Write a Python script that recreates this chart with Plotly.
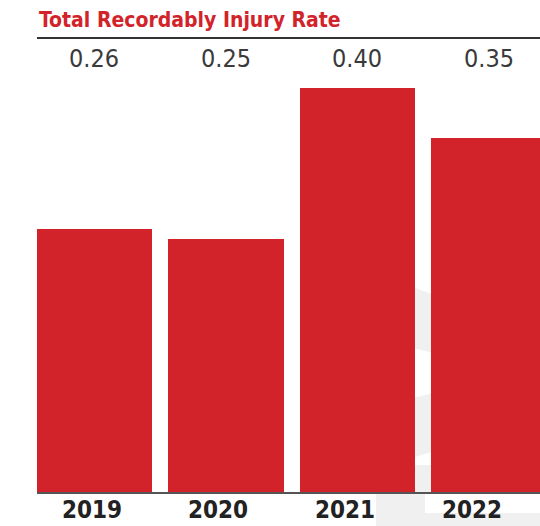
import plotly.graph_objects as go

# Total recordable injury rate by year
years = ["2019", "2020", "2021", "2022"]
rates = [0.26, 0.25, 0.40, 0.35]
rate_labels = ["0.26", "0.25", "0.40", "0.35"]

RED = "#D2232A"
FONT = "DejaVu Sans Condensed, Liberation Sans Narrow, Arial Narrow, sans-serif"

W, H = 540, 526
M_L, M_R, M_T, M_B = 37, 0, 80, 34
PW, PH = W - M_L - M_R, H - M_T - M_B


def px(x, y):
    """Pixel position -> paper coordinates."""
    return (x - M_L) / PW, (H - M_B - y) / PH


def poly(points):
    parts = []
    for i, (x, y) in enumerate(points):
        xp, yp = px(x, y)
        parts.append(("M" if i == 0 else "L") + f"{xp:.4f},{yp:.4f}")
    return " ".join(parts) + " Z"


xs = list(range(len(years)))

fig = go.Figure(
    go.Bar(
        x=xs,
        y=rates,
        width=0.875,
        marker=dict(color=RED, line=dict(width=0)),
        hoverinfo="skip",
    )
)

shapes = []
# faint background emblem behind the bars
wm = "#F0F0F0"
for pts in [
    [(405, 284), (445, 299), (445, 356), (405, 346)],
    [(405, 400), (445, 390), (445, 448), (405, 460)],
    [(376, 465), (445, 465), (445, 492), (425, 492), (425, 513),
     (540, 513), (540, 526), (376, 526)],
]:
    shapes.append(dict(type="path", xref="paper", yref="paper", path=poly(pts),
                       fillcolor=wm, line=dict(width=0), layer="below"))

# rule under the title
_, y_rule = px(0, 38)
shapes.append(dict(type="line", xref="paper", yref="paper", x0=0, x1=1,
                   y0=y_rule, y1=y_rule, line=dict(color="#333333", width=1.8)))

annotations = []
_, y_title = px(0, 20)
annotations.append(dict(text="<b>Total Recordably Injury Rate</b>", xref="paper", yref="paper",
                        x=0, y=y_title, xanchor="left", yanchor="middle", showarrow=False,
                        font=dict(family=FONT, size=21, color=RED)))

_, y_val = px(0, 59)
for i, lab in enumerate(rate_labels):
    annotations.append(dict(text=lab, xref="x", yref="paper", x=xs[i], y=y_val,
                            xanchor="center", yanchor="middle", showarrow=False,
                            font=dict(family=FONT, size=25, color="#3a3a3a")))

_, y_year = px(0, 510)
year_shift = [-2.5, -8, -12, -16.5]
for i, yr in enumerate(years):
    annotations.append(dict(text=f"<b>{yr}</b>", xref="x", yref="paper", x=xs[i], y=y_year,
                            xshift=year_shift[i], xanchor="center", yanchor="middle",
                            showarrow=False, font=dict(family=FONT, size=24, color="#222222")))

fig.update_layout(
    width=W, height=H,
    margin=dict(l=M_L, r=M_R, t=M_T, b=M_B, pad=0),
    paper_bgcolor="white",
    plot_bgcolor="rgba(0,0,0,0)",
    showlegend=False,
    bargap=0,
    shapes=shapes,
    annotations=annotations,
    xaxis=dict(range=[-0.437, 3.388], showgrid=False, zeroline=False,
               showticklabels=False, ticks="",
               showline=True, linecolor="#555555", linewidth=1.5),
    yaxis=dict(range=[0, PH / 1011], showgrid=False, zeroline=False,
               showticklabels=False, ticks="", showline=False),
)

fig.write_html("out.html")
